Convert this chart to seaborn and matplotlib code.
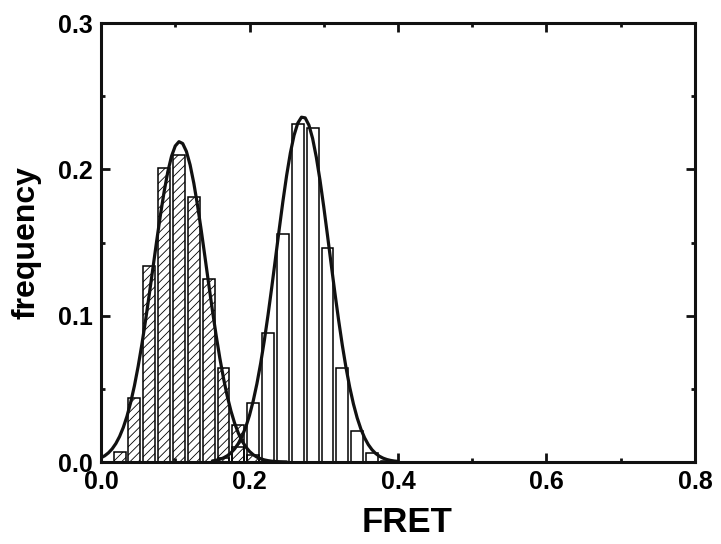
import numpy as np
import pandas as pd
import matplotlib
matplotlib.use("Agg")
import matplotlib.pyplot as plt
import seaborn as sns
from matplotlib.ticker import MultipleLocator

# ---------------- data ----------------
# hatched histogram (low FRET population)
low_centers = [0.025, 0.045, 0.065, 0.085, 0.105, 0.125, 0.145, 0.165, 0.185, 0.205]
low_freq = [0.007, 0.044, 0.134, 0.201, 0.210, 0.181, 0.125, 0.064, 0.025, 0.005]

# open histogram (high FRET population)
high_centers = [0.165, 0.185, 0.205, 0.225, 0.245, 0.265, 0.285, 0.305, 0.325, 0.345, 0.365, 0.385]
high_freq = [0.003, 0.010, 0.040, 0.088, 0.156, 0.231, 0.228, 0.146, 0.064, 0.021, 0.006, 0.001]

# gaussian fits: amplitude, centre, width, and x range the fit is drawn over
fit_amp = [0.219, 0.236]
fit_center = [0.106, 0.272]
fit_sigma = [0.036, 0.036]
fit_range = [(0.0, 0.25), (0.15, 0.40)]

bin_width = 0.02

x_ticks_major = [0.0, 0.2, 0.4, 0.6, 0.8]
y_ticks_major = [0.0, 0.1, 0.2, 0.3]

# ---------------- style ----------------
sns.set_theme(style="ticks")
plt.rcParams["font.family"] = ["Liberation Sans", "DejaVu Sans"]
plt.rcParams["font.weight"] = "bold"
plt.rcParams["text.color"] = "black"
plt.rcParams["axes.labelcolor"] = "black"
plt.rcParams["xtick.labelcolor"] = "black"
plt.rcParams["ytick.labelcolor"] = "black"
plt.rcParams["hatch.linewidth"] = 0.6

fig = plt.figure(figsize=(7.21, 5.44), dpi=100)
ax = fig.add_axes([0.1401, 0.1507, 0.8238, 0.807])


def edges_from(centers):
    e = [c - bin_width / 2 for c in centers]
    return e + [centers[-1] + bin_width / 2]


# open bars first, hatched bars on top with transparent fill
sns.histplot(x=high_centers, weights=high_freq, bins=edges_from(high_centers),
             shrink=0.8, color="white", edgecolor="black", linewidth=1.1,
             alpha=1, ax=ax)
sns.histplot(x=low_centers, weights=low_freq, bins=edges_from(low_centers),
             shrink=0.8, facecolor="none", edgecolor="black", linewidth=1.1,
             hatch="////", alpha=1, ax=ax)

# gaussian fit curves
for a, mu, s, (lo, hi) in zip(fit_amp, fit_center, fit_sigma, fit_range):
    xs = np.arange(lo, hi + 1e-9, 0.005)
    fit_df = pd.DataFrame({"x": xs, "y": a * np.exp(-(xs - mu) ** 2 / (2 * s ** 2))})
    sns.lineplot(data=fit_df, x="x", y="y", color="#111111", linewidth=2.3, ax=ax)

# ---------------- axes ----------------
ax.set_xlim(0, 0.8)
ax.set_ylim(0, 0.3)
ax.set_xticks(x_ticks_major)
ax.set_yticks(y_ticks_major)
ax.set_xticklabels([f"{v:.1f}" for v in x_ticks_major])
ax.set_yticklabels([f"{v:.1f}" for v in y_ticks_major])
ax.xaxis.set_minor_locator(MultipleLocator(0.1))
ax.yaxis.set_minor_locator(MultipleLocator(0.05))
ax.tick_params(which="both", direction="in", top=True, right=True, width=2,
               color="#111111")
ax.tick_params(which="major", length=6.5, labelsize=18, pad=6)
ax.tick_params(which="minor", length=3)
for lab in ax.get_xticklabels() + ax.get_yticklabels():
    lab.set_fontweight("bold")

for sp in ax.spines.values():
    sp.set_linewidth(2.2)
    sp.set_color("#111111")

ax.set_xlabel("FRET", fontsize=25, fontweight="bold")
ax.set_ylabel("frequency", fontsize=23, fontweight="bold")
ax.xaxis.set_label_coords(0.515, -0.10)
ax.yaxis.set_label_coords(-0.100, 0.50)

fig.savefig("out.png", dpi=100)
